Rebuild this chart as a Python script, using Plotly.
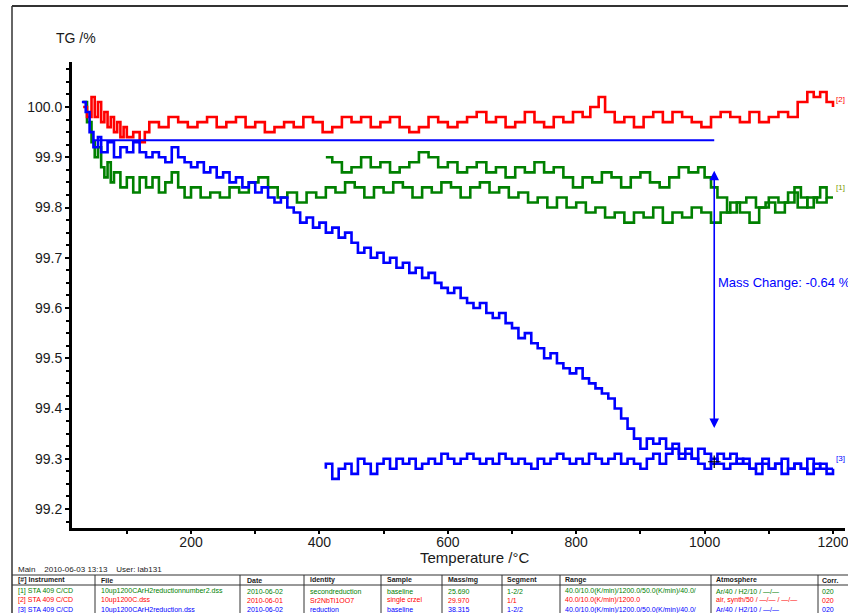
import plotly.graph_objects as go

# ---------------- data: TG curves (temperature in °C, mass in %) ----------------
# [2] 10up1200C.dss, heating only
red_temp = [32, 38, 45, 50, 55, 60, 65, 70, 75, 80, 85, 90, 95, 100, 110, 120, 128, 135, 150, 165, 180,
            195, 210, 225, 240, 255, 270, 285, 300, 315, 330, 345, 360, 375, 390, 405, 420, 435, 450,
            465, 480, 495, 510, 525, 540, 555, 570, 585, 600, 615, 630, 645, 660, 675, 690, 705, 720,
            735, 750, 765, 780, 795, 810, 822, 835, 845, 860, 875, 890, 905, 920, 935, 950, 965, 980,
            995, 1010, 1025, 1040, 1055, 1070, 1085, 1100, 1115, 1130, 1145, 1160, 1170, 1180, 1190, 1200]
red_tg = [100.00, 99.98, 100.02, 99.98, 100.01, 99.97, 99.99, 99.96, 99.98, 99.95, 99.97, 99.94, 99.96, 99.94,
          99.95, 99.93, 99.95, 99.97, 99.96, 99.98, 99.97, 99.96, 99.97, 99.98, 99.96, 99.97, 99.98,
          99.96, 99.97, 99.95, 99.96, 99.97, 99.96, 99.98, 99.97, 99.95, 99.96, 99.98, 99.97, 99.98,
          99.96, 99.97, 99.98, 99.96, 99.95, 99.96, 99.98, 99.97, 99.96, 99.97, 99.98, 99.99, 99.97,
          99.98, 99.96, 99.97, 99.99, 99.97, 99.96, 99.98, 99.97, 99.99, 99.98, 100.00, 100.02, 99.99,
          99.97, 99.98, 99.96, 99.98, 99.99, 99.97, 99.99, 99.98, 99.97, 99.96, 99.98, 99.99, 99.98,
          99.97, 99.99, 99.97, 99.98, 99.99, 99.98, 100.01, 100.03, 100.02, 100.03, 100.01, 100.00]

# [1] 10up1200CArH2reductionnumber2.dss, segment 1 (heating)
green_heat_temp = [32, 38, 45, 50, 55, 60, 65, 70, 75, 80, 90, 100, 110, 120, 130, 140, 150, 160, 170, 180,
                   190, 200, 215, 230, 245, 260, 275, 290, 305, 320, 335, 350, 365, 380, 395, 410, 425,
                   440, 455, 470, 485, 500, 515, 530, 545, 560, 575, 590, 605, 620, 635, 650, 665, 680,
                   695, 710, 725, 740, 755, 770, 785, 800, 815, 830, 845, 860, 875, 890, 905, 920, 935,
                   950, 965, 980, 995, 1010, 1025, 1040, 1055, 1070, 1085, 1100, 1115, 1130, 1145, 1160,
                   1175, 1190, 1200]
green_heat_tg = [100.01, 99.97, 99.93, 99.90, 99.92, 99.88, 99.86, 99.89, 99.85, 99.87, 99.84, 99.86,
                 99.83, 99.86, 99.84, 99.86, 99.83, 99.85, 99.87, 99.84, 99.82, 99.84, 99.82, 99.83,
                 99.82, 99.84, 99.83, 99.85, 99.86, 99.84, 99.82, 99.83, 99.81, 99.83, 99.82, 99.84,
                 99.83, 99.85, 99.84, 99.82, 99.84, 99.83, 99.85, 99.84, 99.82, 99.84, 99.83, 99.85,
                 99.84, 99.82, 99.84, 99.85, 99.83, 99.84, 99.82, 99.83, 99.81, 99.82, 99.80, 99.82,
                 99.80, 99.81, 99.79, 99.80, 99.78, 99.79, 99.77, 99.79, 99.78, 99.80, 99.77, 99.79,
                 99.78, 99.80, 99.79, 99.77, 99.79, 99.81, 99.79, 99.77, 99.80, 99.82, 99.81, 99.83,
                 99.80, 99.82, 99.81, 99.82]

# [1] segment 2 (cooling)
green_cool_temp = [1200, 1190, 1180, 1170, 1160, 1150, 1140, 1125, 1110, 1095, 1080, 1065, 1050, 1035,
                   1020, 1010, 1000, 990, 975, 960, 945, 930, 915, 900, 885, 870, 855, 840, 825, 810,
                   795, 780, 765, 750, 735, 720, 705, 690, 675, 660, 645, 630, 615, 600, 585, 570, 555,
                   540, 525, 510, 495, 480, 465, 450, 435, 420, 410]
green_cool_tg = [99.82, 99.84, 99.82, 99.80, 99.82, 99.84, 99.81, 99.79, 99.81, 99.80, 99.82, 99.81,
                 99.79, 99.82, 99.84, 99.86, 99.88, 99.87, 99.88, 99.86, 99.84, 99.85, 99.87, 99.86,
                 99.84, 99.86, 99.87, 99.85, 99.86, 99.84, 99.86, 99.88, 99.87, 99.89, 99.87, 99.88,
                 99.86, 99.88, 99.87, 99.89, 99.88, 99.87, 99.89, 99.88, 99.90, 99.91, 99.89, 99.88,
                 99.87, 99.89, 99.88, 99.90, 99.88, 99.87, 99.89, 99.90, 99.90]

# [3] 10up1200CArH2reduction.dss, segment 1 (heating)
blue_heat_temp = [30, 36, 42, 48, 55, 60, 70, 80, 90, 100, 110, 120, 130, 140, 150, 160, 170, 180, 190,
                  200, 210, 220, 230, 240, 250, 260, 270, 280, 290, 300, 310, 320, 330, 340, 350, 360,
                  370, 380, 390, 400, 410, 420, 430, 440, 450, 460, 470, 480, 490, 500, 510, 520, 530,
                  540, 550, 560, 570, 580, 590, 600, 610, 620, 630, 640, 650, 660, 670, 680, 690, 700,
                  710, 720, 730, 740, 750, 760, 770, 780, 790, 800, 810, 820, 830, 840, 850, 860, 870,
                  880, 890, 900, 910, 920, 930, 940, 950, 960, 970, 980, 990, 1000, 1010, 1020, 1030,
                  1040, 1050, 1060, 1070, 1080, 1090, 1100, 1110, 1120, 1130, 1140, 1150, 1160, 1170,
                  1180, 1190, 1200]
blue_heat_tg = [100.01, 99.99, 99.95, 99.92, 99.94, 99.91, 99.93, 99.90, 99.92, 99.91, 99.93, 99.91,
                99.90, 99.91, 99.90, 99.89, 99.92, 99.90, 99.89, 99.88, 99.89, 99.87, 99.88, 99.86,
                99.87, 99.85, 99.86, 99.84, 99.85, 99.83, 99.84, 99.82, 99.81, 99.82, 99.80, 99.79,
                99.77, 99.78, 99.76, 99.77, 99.75, 99.76, 99.74, 99.75, 99.73, 99.71, 99.72, 99.70,
                99.71, 99.69, 99.70, 99.68, 99.69, 99.67, 99.68, 99.66, 99.67, 99.65, 99.64, 99.63,
                99.64, 99.62, 99.61, 99.60, 99.61, 99.59, 99.58, 99.59, 99.57, 99.56, 99.54, 99.55,
                99.53, 99.52, 99.50, 99.51, 99.49, 99.48, 99.47, 99.48, 99.46, 99.45, 99.44, 99.43,
                99.42, 99.40, 99.38, 99.36, 99.34, 99.32, 99.34, 99.33, 99.34, 99.32, 99.33, 99.31,
                99.32, 99.30, 99.32, 99.31, 99.29, 99.31, 99.30, 99.31, 99.29, 99.30, 99.28, 99.29,
                99.30, 99.28, 99.29, 99.27, 99.28, 99.29, 99.28, 99.27, 99.29, 99.28, 99.27, 99.28]

# [3] segment 2 (cooling)
blue_cool_temp = [1200, 1190, 1180, 1170, 1160, 1150, 1140, 1130, 1120, 1110, 1100, 1090, 1080, 1070,
                  1060, 1050, 1040, 1030, 1020, 1010, 1000, 990, 980, 970, 960, 950, 940, 930, 920, 910,
                  900, 890, 880, 870, 860, 850, 840, 830, 820, 810, 800, 790, 780, 770, 760, 750, 740,
                  730, 720, 710, 700, 690, 680, 670, 660, 650, 640, 630, 620, 610, 600, 590, 580, 570,
                  560, 550, 540, 530, 520, 510, 500, 490, 480, 470, 460, 450, 440, 430, 420, 410]
blue_cool_tg = [99.28, 99.29, 99.28, 99.30, 99.28, 99.29, 99.28, 99.30, 99.29, 99.28, 99.29, 99.27,
                99.28, 99.29, 99.30, 99.29, 99.28, 99.29, 99.30, 99.28, 99.29, 99.30, 99.31, 99.30,
                99.32, 99.31, 99.29, 99.31, 99.30, 99.28, 99.29, 99.30, 99.29, 99.31, 99.30, 99.29,
                99.30, 99.31, 99.29, 99.30, 99.29, 99.30, 99.31, 99.30, 99.29, 99.30, 99.28, 99.29,
                99.30, 99.29, 99.30, 99.31, 99.29, 99.30, 99.29, 99.30, 99.31, 99.30, 99.29, 99.30,
                99.31, 99.29, 99.30, 99.29, 99.28, 99.30, 99.29, 99.30, 99.28, 99.30, 99.29, 99.27,
                99.29, 99.30, 99.27, 99.29, 99.28, 99.26, 99.29, 99.28]

# mass-change evaluation on curve [3]
mc_start_temp = 48
mc_end_temp = 1015
mc_ref_tg = 99.934
mc_change = -0.64

# axis ticks
x_ticks = [200, 400, 600, 800, 1000, 1200]
y_ticks = [99.2, 99.3, 99.4, 99.5, 99.6, 99.7, 99.8, 99.9, 100.0]

# measurement table
table_header = ["[#] Instrument", "File", "Date", "Identity", "Sample", "Mass/mg", "Segment",
                "Range", "Atmosphere", "Corr."]
table_rows = [
    ["[1] STA 409 C/CD", "10up1200CArH2reductionnumber2.dss", "2010-06-02", "secondreduction",
     "baseline", "25.690", "1-2/2", "40.0/10.0(K/min)/1200.0/50.0(K/min)/40.0/", "Ar/40 / H2/10 / —/—", "020"],
    ["[2] STA 409 C/CD", "10up1200C.dss", "2010-06-01", "Sr2NbTi1OO7", "single crzel", "29.970",
     "1/1", "40.0/10.0(K/min)/1200.0", "air, synth/50 / —/— / —/—", "020"],
    ["[3] STA 409 C/CD", "10up1200CArH2reduction.dss", "2010-06-02", "reduction", "baseline", "38.315",
     "1-2/2", "40.0/10.0(K/min)/1200.0/50.0(K/min)/40.0/", "Ar/40 / H2/10 / —/—", "020"],
]

GREEN = "#008000"
RED = "#ff0000"
BLUE = "#0000ff"
row_colors = [GREEN, RED, BLUE]

W, H = 848, 613
FONT = "Liberation Sans, Arial, sans-serif"


def px(x):
    return x / W


def py(y):
    return 1 - y / H


fig = go.Figure()

line_w = 2.6
for temps, vals, col in [
    (green_heat_temp, green_heat_tg, GREEN),
    (green_cool_temp, green_cool_tg, GREEN),
    (red_temp, red_tg, RED),
    (blue_heat_temp, blue_heat_tg, BLUE),
    (blue_cool_temp, blue_cool_tg, BLUE),
]:
    fig.add_trace(go.Scatter(x=temps, y=vals, mode="lines", line=dict(color=col, width=line_w, shape="hv"),
                             showlegend=False, hoverinfo="skip"))

# reference level of the mass-change evaluation
fig.add_trace(go.Scatter(x=[mc_start_temp, mc_end_temp], y=[mc_ref_tg, mc_ref_tg], mode="lines",
                         line=dict(color=BLUE, width=2), showlegend=False, hoverinfo="skip"))
mc_end_tg = mc_ref_tg + mc_change
fig.add_trace(go.Scatter(x=[mc_end_temp], y=[mc_end_tg], mode="markers",
                         marker=dict(symbol="cross-thin", size=9, line=dict(color="black", width=1.2)),
                         showlegend=False, hoverinfo="skip"))

# double-headed arrow for the mass change
span = mc_ref_tg - mc_end_tg
arrow_top = mc_ref_tg - 0.095 * span
arrow_bot = mc_end_tg + 0.1 * span
fig.add_annotation(x=mc_end_temp, y=arrow_top, ax=mc_end_temp, ay=arrow_bot, xref="x", yref="y",
                   axref="x", ayref="y", text="", showarrow=True, arrowhead=2, arrowside="end+start",
                   arrowsize=1.2, arrowwidth=1.6, arrowcolor=BLUE)
fig.add_annotation(x=mc_end_temp + 2, y=(mc_ref_tg + mc_end_tg) / 2 + 0.037, xref="x", yref="y",
                   text=f"Mass Change: {mc_change:.2f} %", showarrow=False, xanchor="left",
                   yanchor="middle", font=dict(family=FONT, size=13, color=BLUE))

# curve labels
for lbl, yv, col in [("[2]", red_tg[-1] + 0.015, RED), ("[1]", green_heat_tg[-1] + 0.02, "#7a9a00"),
                     ("[3]", blue_heat_tg[-1] + 0.02, BLUE)]:
    fig.add_annotation(x=1201, y=yv, xref="x", yref="y", text=lbl, showarrow=False, xanchor="left",
                       yanchor="middle", font=dict(family=FONT, size=8, color=col))

# axis titles
fig.add_annotation(x=px(54), y=py(38), xref="paper", yref="paper", text="TG /%", showarrow=False,
                   xanchor="left", yanchor="middle", font=dict(family=FONT, size=14, color="#1a1a1a"))
fig.add_annotation(x=px(475), y=py(557), xref="paper", yref="paper", text="Temperature /°C",
                   showarrow=False, xanchor="center", yanchor="middle",
                   font=dict(family=FONT, size=15, color="#1a1a1a"))

# outer frame
shapes = [
    dict(type="line", xref="paper", yref="paper", x0=px(12), x1=px(W), y0=py(6), y1=py(6),
         line=dict(color="#333333", width=2)),
    dict(type="line", xref="paper", yref="paper", x0=px(12), x1=px(12), y0=py(6), y1=py(H),
         line=dict(color="#333333", width=1.5)),
    dict(type="line", xref="paper", yref="paper", x0=px(12), x1=px(W), y0=py(575), y1=py(575),
         line=dict(color="#333333", width=1.2)),
    dict(type="line", xref="paper", yref="paper", x0=px(12), x1=px(W), y0=py(585), y1=py(585),
         line=dict(color="#333333", width=1)),
]

# table grid and text
col_lines = [95, 240, 304, 381, 442, 502, 560, 711, 818]
col_text = [16, 99, 245, 308, 385, 446, 505, 563, 714, 820]
for cx in col_lines:
    shapes.append(dict(type="line", xref="paper", yref="paper", x0=px(cx), x1=px(cx), y0=py(575), y1=py(H),
                       line=dict(color="#333333", width=1)))

fig.add_annotation(x=px(16), y=py(569), xref="paper", yref="paper",
                   text="Main&nbsp;&nbsp;&nbsp;&nbsp;2010-06-03 13:13&nbsp;&nbsp;&nbsp;&nbsp;User: lab131",
                   showarrow=False, xanchor="left", yanchor="middle",
                   font=dict(family=FONT, size=8, color="#1a1a1a"))
for cx, h in zip(col_text, table_header):
    fig.add_annotation(x=px(cx), y=py(580), xref="paper", yref="paper", text=f"<b>{h}</b>",
                       showarrow=False, xanchor="left", yanchor="middle",
                       font=dict(family=FONT, size=7, color="#1a1a1a"))
for ri, (row, col) in enumerate(zip(table_rows, row_colors)):
    ry = 591 + ri * 9.3
    for cx, cell in zip(col_text, row):
        fig.add_annotation(x=px(cx), y=py(ry), xref="paper", yref="paper", text=cell, showarrow=False,
                           xanchor="left", yanchor="middle", font=dict(family=FONT, size=7, color=col))

fig.update_layout(
    width=W, height=H, margin=dict(l=0, r=0, t=0, b=0, autoexpand=False), autosize=False,
    paper_bgcolor="white", plot_bgcolor="white", shapes=shapes,
    font=dict(family=FONT, color="#1a1a1a"),
    xaxis=dict(domain=[px(72), px(845)], range=[14.6, 1218.7], tickvals=x_ticks,
               ticktext=[str(v) for v in x_ticks], showgrid=False, zeroline=False,
               showline=True, linecolor="black", linewidth=3, ticks="outside", ticklen=3, tickwidth=2,
               tickcolor="black", tickfont=dict(family=FONT, size=14, color="#1a1a1a"),
               ticklabelstandoff=-4, ticklabeloverflow="allow", automargin=False,
               minor=dict(dtick=100, tick0=0, ticks="outside", ticklen=3, tickwidth=2, tickcolor="black"),
               anchor="y", fixedrange=True),
    yaxis=dict(domain=[py(528), py(62)], range=[99.1622, 100.0896], tickvals=y_ticks,
               ticktext=[f"{v:.1f}" for v in y_ticks], showgrid=False, zeroline=False,
               showline=True, linecolor="black", linewidth=3, ticks="outside", ticklen=4, tickwidth=2,
               tickcolor="black", tickfont=dict(family=FONT, size=14, color="#1a1a1a"),
               ticklabeloverflow="allow", automargin=False,
               minor=dict(dtick=0.025, tick0=0, ticks="outside", ticklen=3, tickwidth=2, tickcolor="black"),
               anchor="x", fixedrange=True),
)

fig.write_html("out.html")
